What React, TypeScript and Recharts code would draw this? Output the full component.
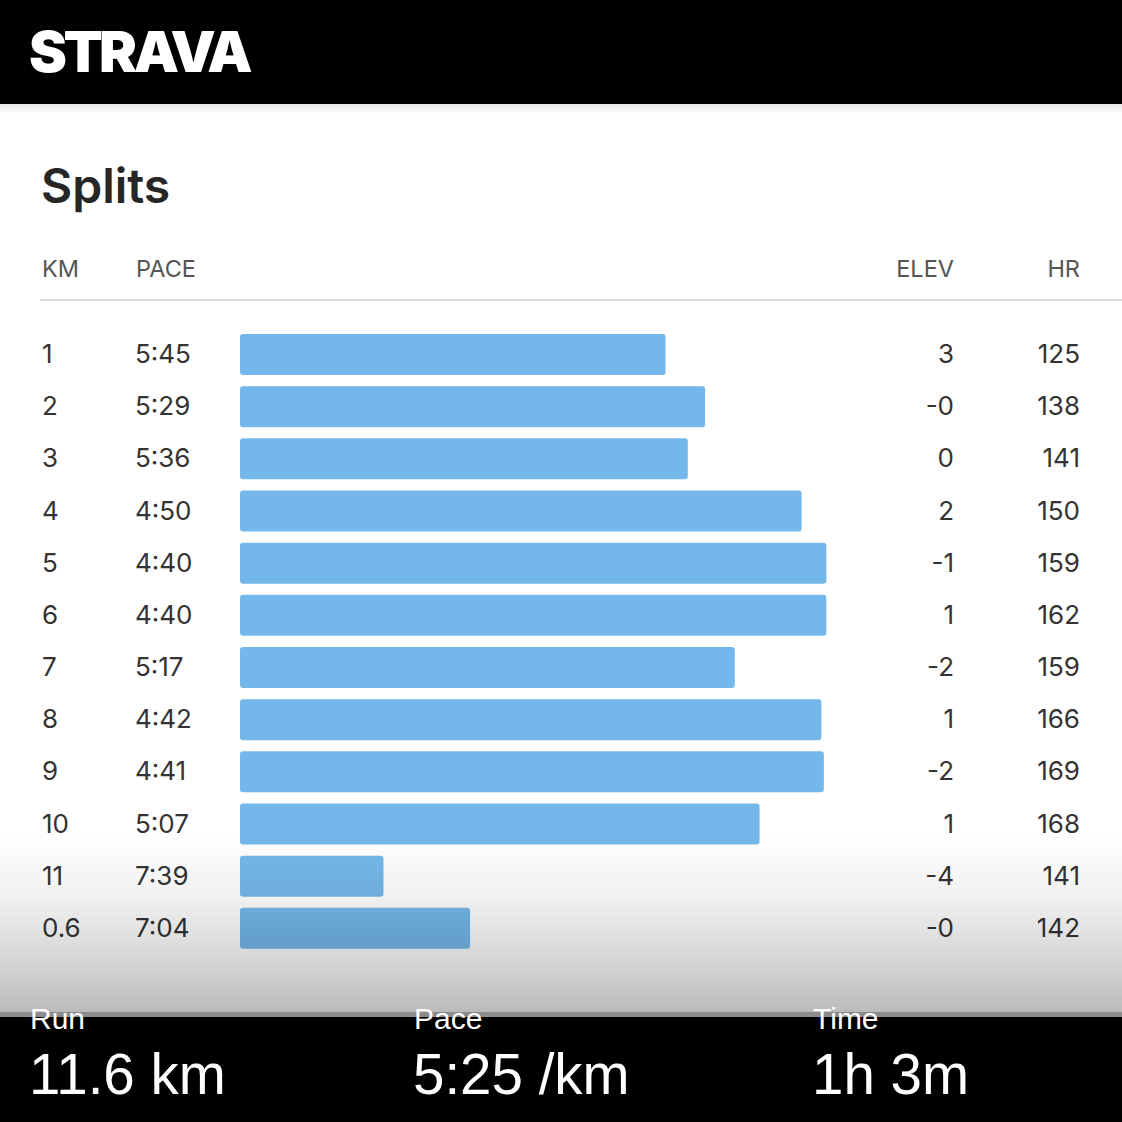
import React from "react";
import { BarChart, Bar, XAxis, YAxis } from "recharts";

const kmLabels = ["1", "2", "3", "4", "5", "6", "7", "8", "9", "10", "11", "0.6"];
const paces = ["5:45", "5:29", "5:36", "4:50", "4:40", "4:40", "5:17", "4:42", "4:41", "5:07", "7:39", "7:04"];
const elevs = ["3", "-0", "0", "2", "-1", "1", "-2", "1", "-2", "1", "-4", "-0"];
const heartRates = [125, 138, 141, 150, 159, 162, 159, 166, 169, 168, 141, 142];
const columnHeaders = ["KM", "PACE", "ELEV", "HR"];
const summaryLabels = ["Run", "Pace", "Time"];
const summaryValues = ["11.6 km", "5:25 /km", "1h 3m"];

// bar length grows as pace gets faster (measured from a slow reference pace)
const SLOW_REF_SEC = 517;
const toSec = (p: string) => {
  const [m, s] = p.split(":").map(Number);
  return m * 60 + s;
};
const data = kmLabels.map((km, i) => ({
  km,
  pace: paces[i],
  elev: elevs[i],
  hr: heartRates[i],
  bar: SLOW_REF_SEC - toSec(paces[i]),
}));

const W = 1122;
const H = 1122;
const FONT = "Inter, 'Noto Sans', sans-serif";
const TEXT = "#333333";

const RowTick = (props: any) => {
  const { y, payload } = props;
  const i = kmLabels.indexOf(String(payload.value));
  const d = data[i];
  if (!d) return null;
  const common = { fontFamily: FONT, fontSize: 26, fill: TEXT, dy: 9 } as any;
  return (
    <g>
      <text x={42} y={y} {...common} textAnchor="start">{d.km}</text>
      <text x={135} y={y} {...common} textAnchor="start">{d.pace}</text>
      <text x={954} y={y} {...common} textAnchor="end">{d.elev}</text>
      <text x={1080} y={y} {...common} textAnchor="end">{d.hr}</text>
    </g>
  );
};

export default function App() {
  return (
    <div style={{ position: "absolute", left: 0, top: 0, width: W, height: H, background: "#ffffff", overflow: "hidden" }}>
      <svg width={W} height={H} style={{ position: "absolute", left: 0, top: 0 }}>
        <defs>
          <linearGradient id="hdrShadow" x1="0" y1="0" x2="0" y2="1">
            <stop offset="0" stopColor="#e6e6e4" />
            <stop offset="1" stopColor="#ffffff" />
          </linearGradient>
        </defs>
        <rect x={0} y={0} width={W} height={104} fill="#000000" />
        <rect x={0} y={104} width={W} height={10} fill="url(#hdrShadow)" />
        <text x={29} y={72} fontFamily={FONT} fontWeight={900} fontSize={57} fill="#ffffff" letterSpacing={-3.5}>
          STRAVA
        </text>
        <text x={41} y={203} fontFamily={FONT} fontWeight={600} fontSize={48} fill="#262626">
          Splits
        </text>
        <text x={42} y={277} fontFamily={FONT} fontSize={23.5} fill="#555555">{columnHeaders[0]}</text>
        <text x={136} y={277} fontFamily={FONT} fontSize={23.5} fill="#555555">{columnHeaders[1]}</text>
        <text x={954} y={277} fontFamily={FONT} fontSize={23.5} fill="#555555" textAnchor="end">{columnHeaders[2]}</text>
        <text x={1080} y={277} fontFamily={FONT} fontSize={23.5} fill="#555555" textAnchor="end">{columnHeaders[3]}</text>
        <line x1={40} x2={W} y1={300} y2={300} stroke="#cfcfcf" strokeWidth={1.5} />
      </svg>

      <div style={{ position: "absolute", left: 0, top: 0 }}>
        <BarChart
          width={W}
          height={H}
          data={data}
          layout="vertical"
          margin={{ top: 328, right: 120, bottom: 168, left: 0 }}
        >
          <XAxis type="number" hide domain={[0, 308]} />
          <YAxis
            type="category"
            dataKey="km"
            width={240}
            axisLine={false}
            tickLine={false}
            tick={<RowTick />}
            interval={0}
          />
          <Bar dataKey="bar" fill="#74b8eb" radius={3} barSize={41} isAnimationActive={false} />
        </BarChart>
      </div>

      <div
        style={{
          position: "absolute",
          left: 0,
          top: 835,
          width: W,
          height: 178,
          background: "linear-gradient(to bottom, rgba(0,0,0,0) 0%, rgba(0,0,0,0.06) 35%, rgba(0,0,0,0.16) 70%, rgba(0,0,0,0.27) 100%)",
          pointerEvents: "none",
        }}
      />

      <svg width={W} height={H} style={{ position: "absolute", left: 0, top: 0 }}>
        <rect x={0} y={1012} width={W} height={6} fill="#8c8c8c" />
        <rect x={0} y={1017} width={W} height={H - 1017} fill="#000000" />
        {summaryLabels.map((lab, i) => (
          <text key={lab} x={[30, 414, 813][i]} y={1029} fontFamily="'Liberation Sans', Arial, sans-serif" fontSize={30} fill="#ffffff">
            {lab}
          </text>
        ))}
        {summaryValues.map((v, i) => (
          <text key={v} x={[29, 413, 812][i]} y={1094} fontFamily="'Liberation Sans', Arial, sans-serif" fontSize={56.5} fill="#ffffff">
            {v}
          </text>
        ))}
      </svg>
    </div>
  );
}
